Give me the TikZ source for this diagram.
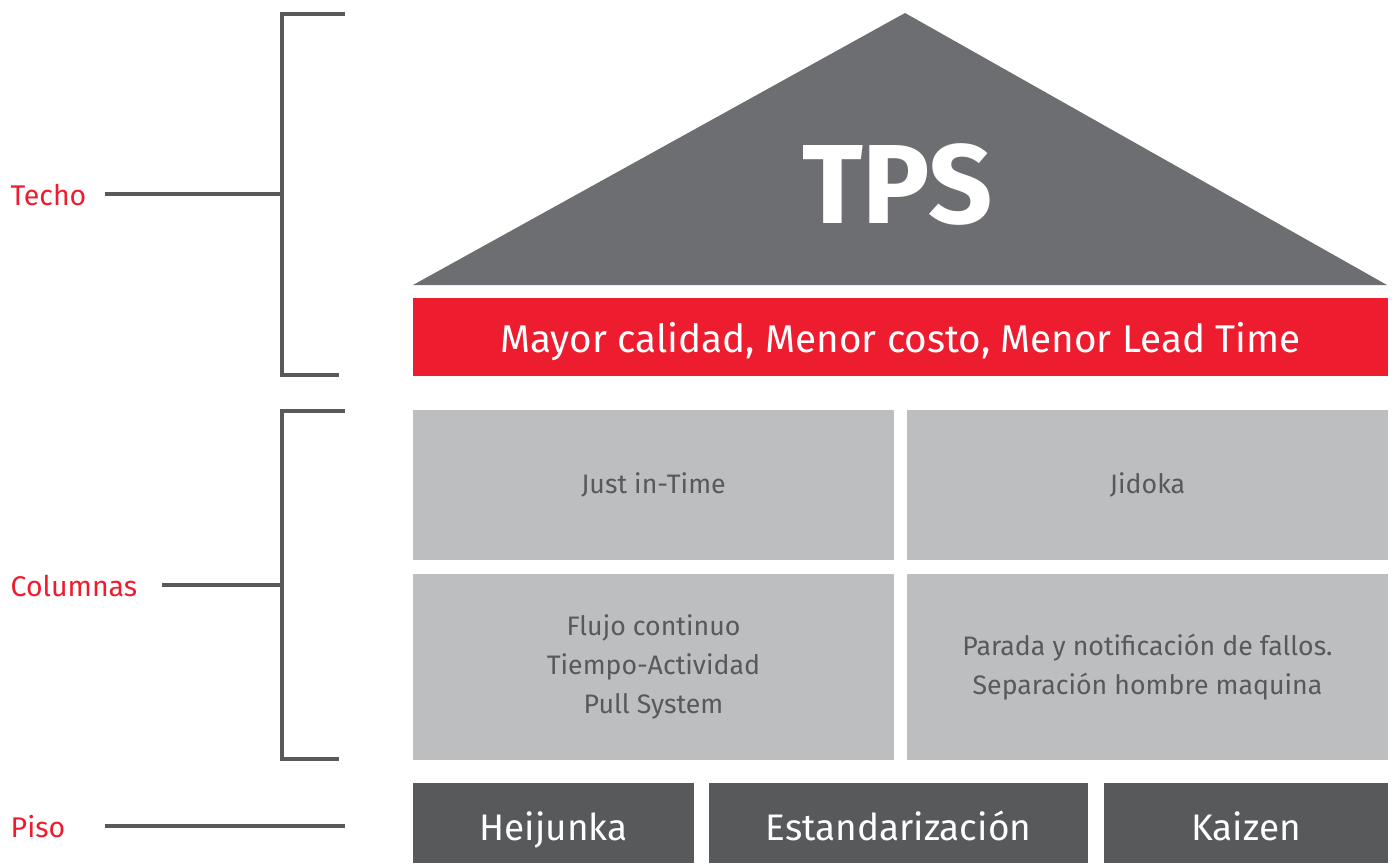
\documentclass[tikz,border=0pt]{standalone}
\usepackage{fontspec}
\setmainfont{Fira Sans}
\usetikzlibrary{positioning,calc}
\definecolor{roofgray}{HTML}{6D6E71}
\definecolor{tpsred}{HTML}{ED1C2E}
\definecolor{pillargray}{HTML}{BCBEC0}
\definecolor{floorgray}{HTML}{58595B}

\begin{document}
\begin{tikzpicture}[x=0.01cm,y=-0.01cm,
    pillar/.style={fill=pillargray,text=floorgray,inner sep=0pt,align=center,
        minimum width=4.81cm,font=\fontsize{7.6}{11.2}\selectfont},
    floorbox/.style={fill=floorgray,text=white,inner sep=0pt,minimum height=0.8cm,
        text height=0.34cm,text depth=0cm,font=\fontsize{10.5}{12}\selectfont},
    sidelabel/.style={text=tpsred,anchor=west,inner sep=0pt,font=\fontsize{8.1}{10}\selectfont},
    bracket/.style={draw=floorgray,line width=0.9pt}]
    \useasboundingbox (0,0) rectangle (1395,863);

    \fill[roofgray] (413,285) -- (905,13) -- (1387,285) -- cycle;
    \node[text=white,inner sep=0pt,font=\fontsize{32}{34}\bfseries\selectfont] (tps) at (897.5,184) {TPS};
    \node[fill=tpsred,text=white,inner sep=0pt,minimum width=9.75cm,minimum height=0.78cm,
        text height=0.30cm,text depth=0cm,
        font=\fontsize{11}{13}\selectfont] (goal) at (900.5,337) {Mayor calidad, Menor costo, Menor Lead Time};

    \node[pillar,minimum height=1.5cm] (jit) at (653.5,485) {Just in-Time};
    \node[pillar,minimum height=1.5cm] (jidoka) at (1147.5,485) {Jidoka};
    \node[pillar,minimum height=1.86cm] (flujo) at (653.5,667) {Flujo continuo\\Tiempo-Actividad\\Pull System};
    \node[pillar,minimum height=1.86cm] (parada) at (1147.5,667) {Parada y notificación de fallos.\\Separación hombre maquina};

    \node[floorbox,minimum width=2.81cm] (heijunka) at (553.5,823) {Heijunka};
    \node[floorbox,minimum width=3.79cm] (estandar) at (898.5,823) {Estandarización};
    \node[floorbox,minimum width=2.84cm] (kaizen) at (1246,823) {Kaizen};

    \node[sidelabel] (techo) at (10,195) {Techo};
    \node[sidelabel] (columnas) at (10,586) {Columnas};
    \node[sidelabel] (piso) at (10,827) {Piso};

    \foreach \nm/\yt/\yb/\ym/\xs in {techo/14/375/194/105,colum/411/759/585/162}
        {
            \coordinate (\nm top) at (345,\yt);
            \coordinate (\nm bot) at (339,\yb);
            \coordinate (\nm mid) at (282,\ym);
            \coordinate (\nm tick) at (\xs,\ym);
            \draw[bracket] (\nm top) -- (282,\yt) -- (282,\yb) -- (\nm bot);
            \draw[bracket] (\nm tick) -- (\nm mid);
        }
    \coordinate (pisotick) at (105,826);
    \coordinate (pisoend) at (345,826);
    \draw[bracket] (pisotick) -- (pisoend);
\end{tikzpicture}
\end{document}
